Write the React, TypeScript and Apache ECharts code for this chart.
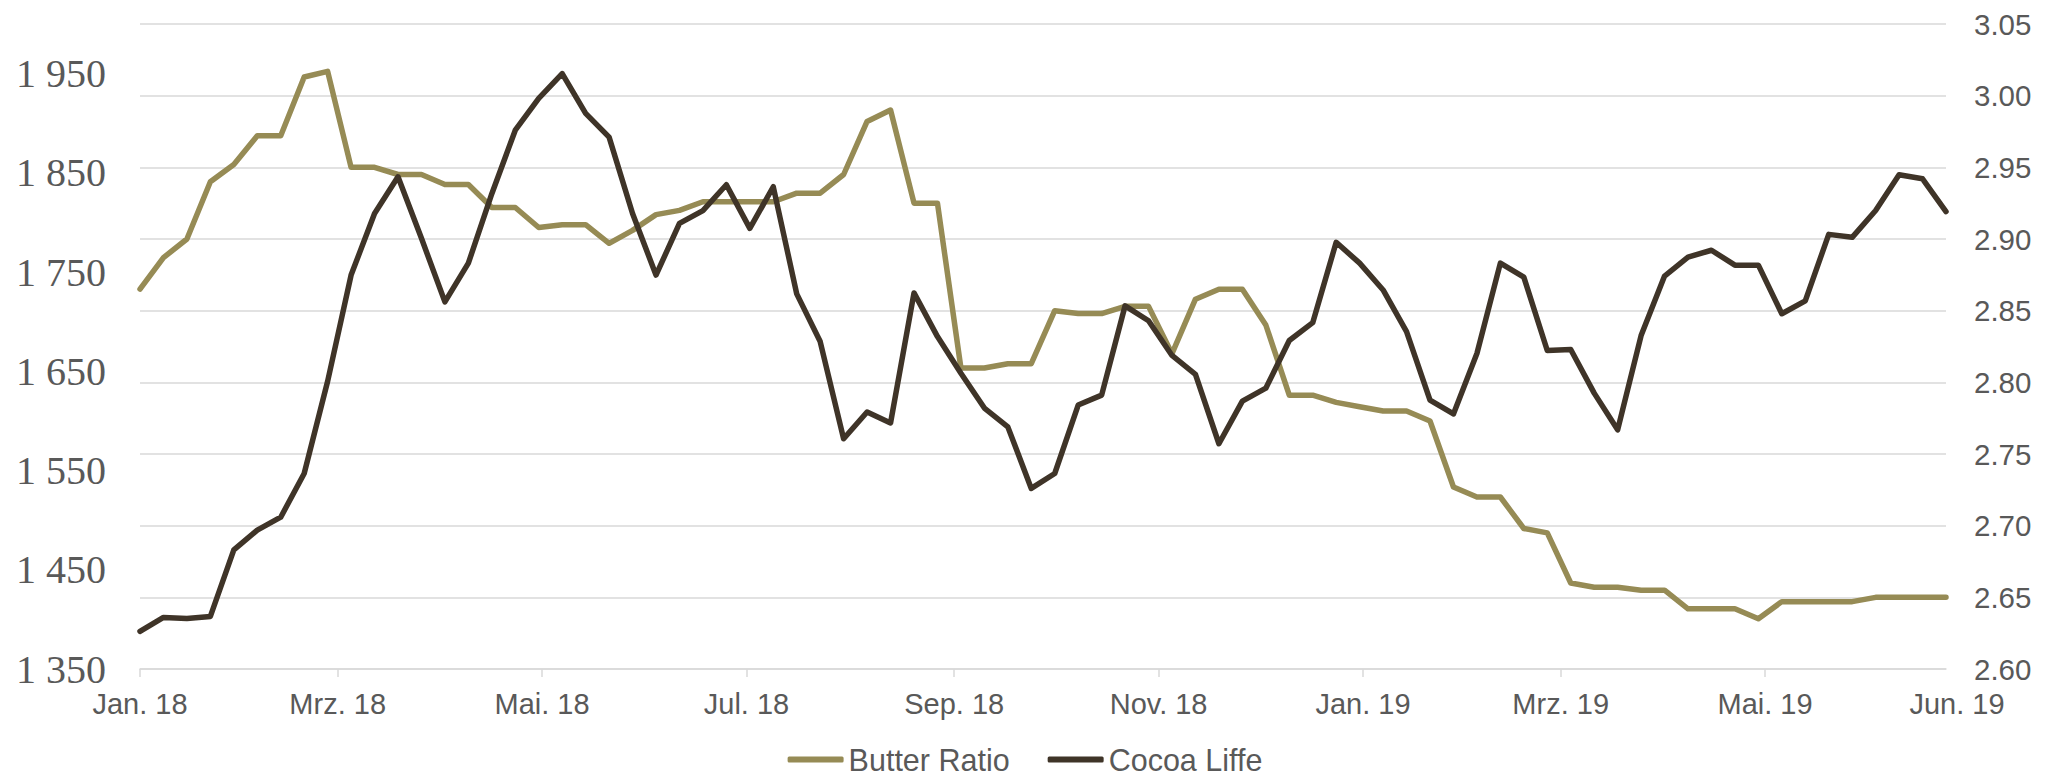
import React, { useEffect, useRef } from "react";
import * as echarts from "echarts";

// Weekly observations (Mondays), starting 1 Jan 2018
const firstWeek = "2018-01-01";

// Butter ratio (right axis)
const butterRatio = [
  2.865, 2.887, 2.9, 2.94, 2.952, 2.972, 2.972, 3.013, 3.017, 2.95,
  2.95, 2.945, 2.945, 2.938, 2.938, 2.922, 2.922, 2.908, 2.91, 2.91,
  2.897, 2.906, 2.917, 2.92, 2.926, 2.926, 2.926, 2.926, 2.932, 2.932,
  2.945, 2.982, 2.99, 2.925, 2.925, 2.81, 2.81, 2.813, 2.813, 2.85,
  2.848, 2.848, 2.853, 2.853, 2.82, 2.858, 2.865, 2.865, 2.84, 2.791,
  2.791, 2.786, 2.783, 2.78, 2.78, 2.773, 2.727, 2.72, 2.72, 2.698,
  2.695, 2.66, 2.657, 2.657, 2.655, 2.655, 2.642, 2.642, 2.642, 2.635,
  2.647, 2.647, 2.647, 2.647, 2.65, 2.65, 2.65, 2.65,
];

// Cocoa Liffe price (left axis)
const cocoaLiffe = [
  1388, 1402, 1401, 1403, 1470, 1490, 1503, 1547, 1640, 1747,
  1809, 1846, 1784, 1720, 1759, 1829, 1893, 1925, 1950, 1910,
  1886, 1809, 1747, 1799, 1812, 1838, 1794, 1836, 1728, 1680,
  1582, 1609, 1598, 1729, 1685, 1648, 1613, 1594, 1532, 1547,
  1616, 1626, 1716, 1701, 1666, 1647, 1577, 1620, 1633, 1681,
  1699, 1780, 1759, 1732, 1690, 1621, 1607, 1668, 1759, 1745,
  1671, 1672, 1628, 1591, 1686, 1746, 1765, 1772, 1757, 1757,
  1708, 1721, 1788, 1785, 1812, 1848, 1844, 1811,
];

// Month ticks on the date axis
const tickDates = [
  "2018-01-01", "2018-03-01", "2018-05-01", "2018-07-01", "2018-09-01",
  "2018-11-01", "2019-01-01", "2019-03-01", "2019-05-01",
];
const labelDates = [...tickDates, "2019-06-24"];
const labelTexts = [
  "Jan. 18", "Mrz. 18", "Mai. 18", "Jul. 18", "Sep. 18",
  "Nov. 18", "Jan. 19", "Mrz. 19", "Mai. 19", "Jun. 19",
];

// Axis label values
const leftTicks = [1350, 1450, 1550, 1650, 1750, 1850, 1950];

const DAY = 86400000;
const ts = (d: string) => Date.parse(d + "T00:00:00Z");

const GRID_COLOR = "#d9d9d9";
const TEXT_COLOR = "#595959";
const BUTTER_COLOR = "#968b55";
const COCOA_COLOR = "#3f3428";
const SANS = "'Liberation Sans', Arial, sans-serif";
const SERIF = "'Liberation Serif', 'Times New Roman', serif";

export default function App() {
  const ref = useRef<HTMLDivElement>(null);

  useEffect(() => {
    if (!ref.current) return;
    const chart = echarts.init(ref.current, undefined, { renderer: "svg" });

    const start = ts(firstWeek);
    const weekAt = (i: number) => start + i * 7 * DAY;
    const butterData = butterRatio.map((v, i) => [weekAt(i), v]);
    const cocoaData = cocoaLiffe.map((v, i) => [weekAt(i), v]);
    const lastWeek = weekAt(butterRatio.length - 1);

    const labelMap = new Map<number, string>();
    labelDates.forEach((d, i) => labelMap.set(ts(d), labelTexts[i]));

    chart.setOption({
      animation: false,
      backgroundColor: "#ffffff",
      grid: { left: 140, right: 104, top: 24, bottom: 106, containLabel: false },
      legend: {
        data: ["Butter Ratio", "Cocoa Liffe"],
        top: 739,
        left: "center",
        icon: "roundRect",
        itemWidth: 56,
        itemHeight: 6,
        itemGap: 38,
        textStyle: {
          fontSize: 30.5,
          color: TEXT_COLOR,
          fontFamily: SANS,
        },
      },
      xAxis: {
        type: "value",
        min: start,
        max: lastWeek,
        axisLine: { show: true, lineStyle: { color: GRID_COLOR, width: 1.5 } },
        axisTick: {
          show: true,
          length: 8,
          customValues: tickDates.map(ts),
          lineStyle: { color: GRID_COLOR, width: 1.5 },
        },
        axisLabel: {
          customValues: labelDates.map(ts),
          formatter: (v: number) => {
            const text = labelMap.get(v) ?? "";
            return v === lastWeek ? `{end|${text}}` : text;
          },
          fontSize: 29,
          color: TEXT_COLOR,
          fontFamily: SANS,
          margin: 20,
          rich: {
            end: {
              fontSize: 29,
              color: TEXT_COLOR,
              fontFamily: SANS,
              padding: [0, 0, 0, 22],
            },
          },
        },
        splitLine: { show: false },
      },
      yAxis: [
        {
          type: "value",
          min: 1350,
          max: 2000,
          splitLine: { show: false },
          axisLine: { show: false },
          axisTick: { show: false },
          axisLabel: {
            customValues: leftTicks,
            formatter: (v: number) => {
              const s = String(Math.round(v));
              return s.length > 3 ? s.slice(0, s.length - 3) + " " + s.slice(-3) : s;
            },
            fontSize: 40,
            color: TEXT_COLOR,
            fontFamily: SERIF,
            margin: 34,
          },
        },
        {
          type: "value",
          min: 2.6,
          max: 3.05,
          interval: 0.05,
          position: "right",
          splitLine: { show: true, lineStyle: { color: GRID_COLOR, width: 1.5 } },
          axisLine: { show: false },
          axisTick: { show: false },
          axisLabel: {
            formatter: (v: number) => v.toFixed(2),
            fontSize: 29.5,
            color: TEXT_COLOR,
            fontFamily: SANS,
            margin: 28,
          },
        },
      ],
      series: [
        {
          name: "Butter Ratio",
          type: "line",
          yAxisIndex: 1,
          data: butterData,
          symbol: "none",
          color: BUTTER_COLOR,
          lineStyle: { color: BUTTER_COLOR, width: 5.5, cap: "round", join: "round" },
          z: 2,
        },
        {
          name: "Cocoa Liffe",
          type: "line",
          yAxisIndex: 0,
          data: cocoaData,
          symbol: "none",
          color: COCOA_COLOR,
          lineStyle: { color: COCOA_COLOR, width: 5.5, cap: "round", join: "round" },
          z: 3,
        },
      ],
    });

    return () => chart.dispose();
  }, []);

  return (
    <div
      style={{
        position: "fixed",
        left: 0,
        top: 0,
        width: 2050,
        height: 775,
        overflow: "hidden",
        background: "#ffffff",
      }}
    >
      <div ref={ref} style={{ width: 2050, height: 775 }} />
    </div>
  );
}
